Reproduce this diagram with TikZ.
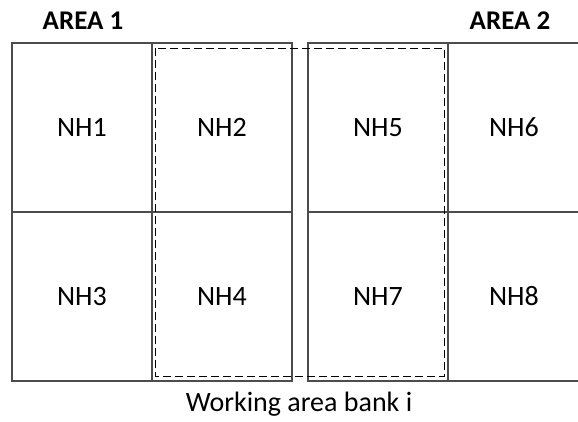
\documentclass[tikz,border=0pt]{standalone}
\usepackage{fontspec}
\setmainfont{Carlito}
\usetikzlibrary{positioning}
\begin{document}
\begin{tikzpicture}[x=1pt, y=-1pt,
  cell/.style={draw=black!70, line width=1.2pt, minimum width=140pt, minimum height=169pt,
    inner sep=0pt, font=\fontsize{28}{32}\selectfont},
  ttl/.style={font=\fontsize{27}{31}\selectfont\bfseries},
  caption/.style={font=\fontsize{28}{32}\selectfont},
  bank/.style={draw=black, line width=1.2pt, dash pattern=on 8pt off 4pt}]
  \clip (0,0) rectangle (578,421);
  % area 1
  \node[cell] (nh1) at (82,127.5) {NH1};
  \node[cell] (nh2) at (222,127.5) {NH2};
  \node[cell] (nh3) at (82,296.5) {NH3};
  \node[cell] (nh4) at (222,296.5) {NH4};
  % area 2
  \node[cell] (nh5) at (378,127.5) {NH5};
  \node[cell, minimum width=132pt] (nh6) at (514,127.5) {NH6};
  \node[cell] (nh7) at (378,296.5) {NH7};
  \node[cell, minimum width=132pt] (nh8) at (514,296.5) {NH8};
  \node[ttl] (a1) at (83,21) {AREA 1};
  \node[ttl] (a2) at (510,21) {AREA 2};
  % working bank
  \draw[bank] ([xshift=4pt, yshift=-6pt]nh2.north west) rectangle ([xshift=-4pt, yshift=5pt]nh7.south east);
  \node[caption] (wb) at (299,404) {Working area bank i};
\end{tikzpicture}
\end{document}
